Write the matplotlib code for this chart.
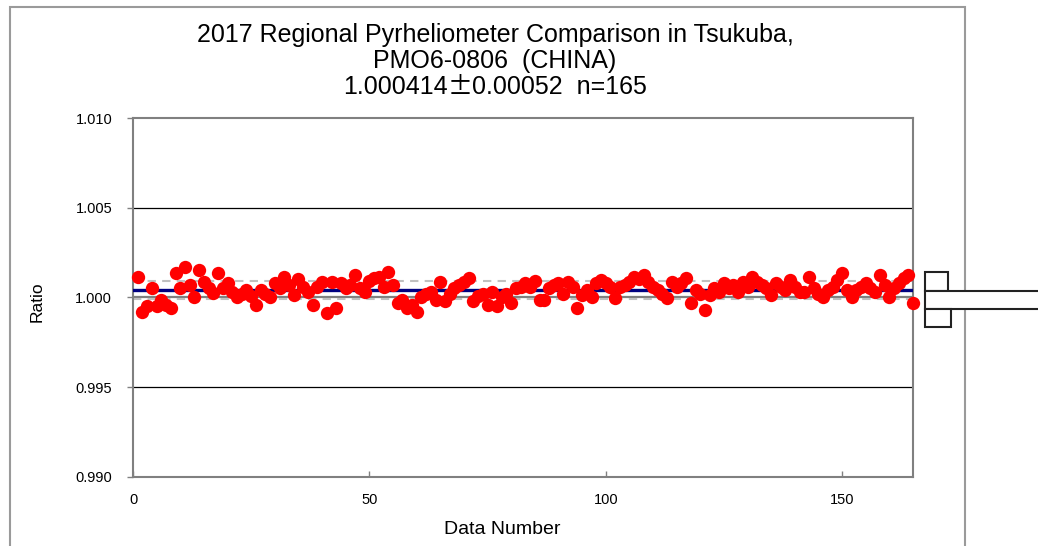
import matplotlib
matplotlib.use("Agg")
import matplotlib.pyplot as plt
from matplotlib.patches import Rectangle
import numpy as np

plt.rcParams['font.family'] = ['Liberation Sans', 'DejaVu Sans']

title_lines = ["2017 Regional Pyrheliometer Comparison in Tsukuba,",
               "PMO6-0806  (CHINA)"]
stat_parts = ["1.000414", "\u00b1", "0.00052  n=165"]
mean_ratio = 1.000414
std_ratio = 0.00052
yticks = [0.990, 0.995, 1.000, 1.005, 1.010]
ytick_labels = ["0.990", "0.995", "1.000", "1.005", "1.010"]
xticks = [0, 50, 100, 150]
xtick_labels = ["0", "50", "100", "150"]

ratios = [
    1.00116, 0.99921, 0.99950, 1.00053, 0.99949, 0.99986, 0.99960, 0.99940, 1.00136, 1.00053,
    1.00170, 1.00070, 1.00004, 1.00153, 1.00088, 1.00050, 1.00025, 1.00136, 1.00053, 1.00080,
    1.00030, 1.00004, 1.00020, 1.00040, 1.00010, 0.99958, 1.00040, 1.00020, 1.00000, 1.00080,
    1.00050, 1.00116, 1.00070, 1.00014, 1.00100, 1.00060, 1.00030, 0.99960, 1.00060, 1.00088,
    0.99913, 1.00088, 0.99940, 1.00080, 1.00053, 1.00070, 1.00125, 1.00053, 1.00030, 1.00090,
    1.00110, 1.00116, 1.00060, 1.00144, 1.00070, 0.99968, 0.99986, 0.99940, 0.99960, 0.99921,
    1.00004, 1.00020, 1.00030, 0.99986, 1.00088, 0.99977, 1.00020, 1.00050, 1.00070, 1.00088,
    1.00110, 0.99977, 1.00010, 1.00020, 0.99960, 1.00030, 0.99950, 1.00004, 1.00020, 0.99970,
    1.00050, 1.00060, 1.00080, 1.00060, 1.00090, 0.99986, 0.99986, 1.00050, 1.00070, 1.00080,
    1.00020, 1.00088, 1.00060, 0.99940, 1.00014, 1.00040, 1.00004, 1.00080, 1.00097, 1.00080,
    1.00060, 0.99996, 1.00060, 1.00070, 1.00088, 1.00116, 1.00100, 1.00125, 1.00088, 1.00060,
    1.00040, 1.00020, 0.99996, 1.00088, 1.00060, 1.00080, 1.00110, 0.99970, 1.00040, 1.00020,
    0.99930, 1.00014, 1.00050, 1.00030, 1.00080, 1.00050, 1.00070, 1.00030, 1.00088, 1.00060,
    1.00116, 1.00088, 1.00070, 1.00050, 1.00014, 1.00080, 1.00060, 1.00040, 1.00097, 1.00060,
    1.00030, 1.00030, 1.00116, 1.00050, 1.00020, 1.00004, 1.00040, 1.00060, 1.00097, 1.00135,
    1.00040, 1.00004, 1.00040, 1.00060, 1.00080, 1.00050, 1.00030, 1.00125, 1.00070, 1.00004,
    1.00050, 1.00080, 1.00110, 1.00125, 0.99970,
]
data_number = np.arange(1, len(ratios) + 1)

W, H = 1038, 546
fig = plt.figure(figsize=(W / 100, H / 100), dpi=100)

def fx(px):
    return px / W

def fy(py):
    return 1 - py / H

ax = fig.add_axes([fx(133), fy(476.7), fx(913) - fx(133), fy(118) - fy(476.7)])

# horizontal grid lines
for yv in [0.995, 1.005]:
    ax.axhline(yv, color='black', lw=0.9, zorder=1)
ax.axhline(1.000, color='#7f7f7f', lw=1.6, zorder=2)
ax.axhline(mean_ratio + std_ratio, color='#c0c0c0', lw=1.5, ls=(0, (4, 3)), zorder=2)
ax.axhline(mean_ratio - std_ratio, color='#c0c0c0', lw=1.5, ls=(0, (4, 3)), zorder=2)
ax.axhline(mean_ratio, color='#000080', lw=2.4, zorder=3)

ax.plot(data_number, ratios, 'o', color='#ff0000', ms=9.6, mec='none', zorder=4, clip_on=False)

ax.set_xlim(0, 165)
ax.set_ylim(0.990, 1.010)
ax.set_yticks(yticks)
ax.set_yticklabels(ytick_labels)
ax.set_xticks(xticks)
ax.set_xticklabels(xtick_labels)
ax.tick_params(axis='y', direction='out', length=4, width=1, color='#808080', pad=11, labelsize=10.5)
ax.tick_params(axis='x', direction='in', length=4, width=1, color='#808080', pad=12, labelsize=10.5)
for s in ax.spines.values():
    s.set_color('#808080')
    s.set_linewidth(1.5)

fig.text(fx(37), fy(302), "Ratio", rotation=90, ha='center', va='center', fontsize=12.5)
fig.text(fx(502), fy(530), "Data Number", ha='center', va='center', fontsize=14)

TFS = 18
for t, ypx in zip(title_lines, [35, 61]):
    fig.text(fx(495), fy(ypx), t, ha='center', va='center', fontsize=TFS)

# third title line: wide (full-width) plus-minus sign as in the original
renderer = fig.canvas.get_renderer()
fams = [['Liberation Sans'], ['Noto Sans CJK JP', 'DejaVu Sans'], ['Liberation Sans']]
parts = [fig.text(0, fy(87), s, ha='left', va='center', fontsize=TFS, family=f)
         for s, f in zip(stat_parts, fams)]
widths = [p.get_window_extent(renderer).width for p in parts]
x = 495 - sum(widths) / 2
for p, w in zip(parts, widths):
    p.set_x(fx(x))
    x += w

# chart frame
fig.add_artist(Rectangle((fx(10), fy(560)), fx(965) - fx(10), fy(7) - fy(560),
                         transform=fig.transFigure, fill=False, ec='#9a9a9a', lw=1.5))

# legend-like box glyph on the right
boxes = [(925, 272, 948, 291), (925, 291, 1045, 309), (925, 309, 951, 327)]
for x0, y0, x1, y1 in boxes:
    fig.add_artist(Rectangle((fx(x0), fy(y1)), fx(x1) - fx(x0), fy(y0) - fy(y1),
                             transform=fig.transFigure, fc='white', ec='#222222', lw=1.5))

fig.savefig("out.png", dpi=100)
